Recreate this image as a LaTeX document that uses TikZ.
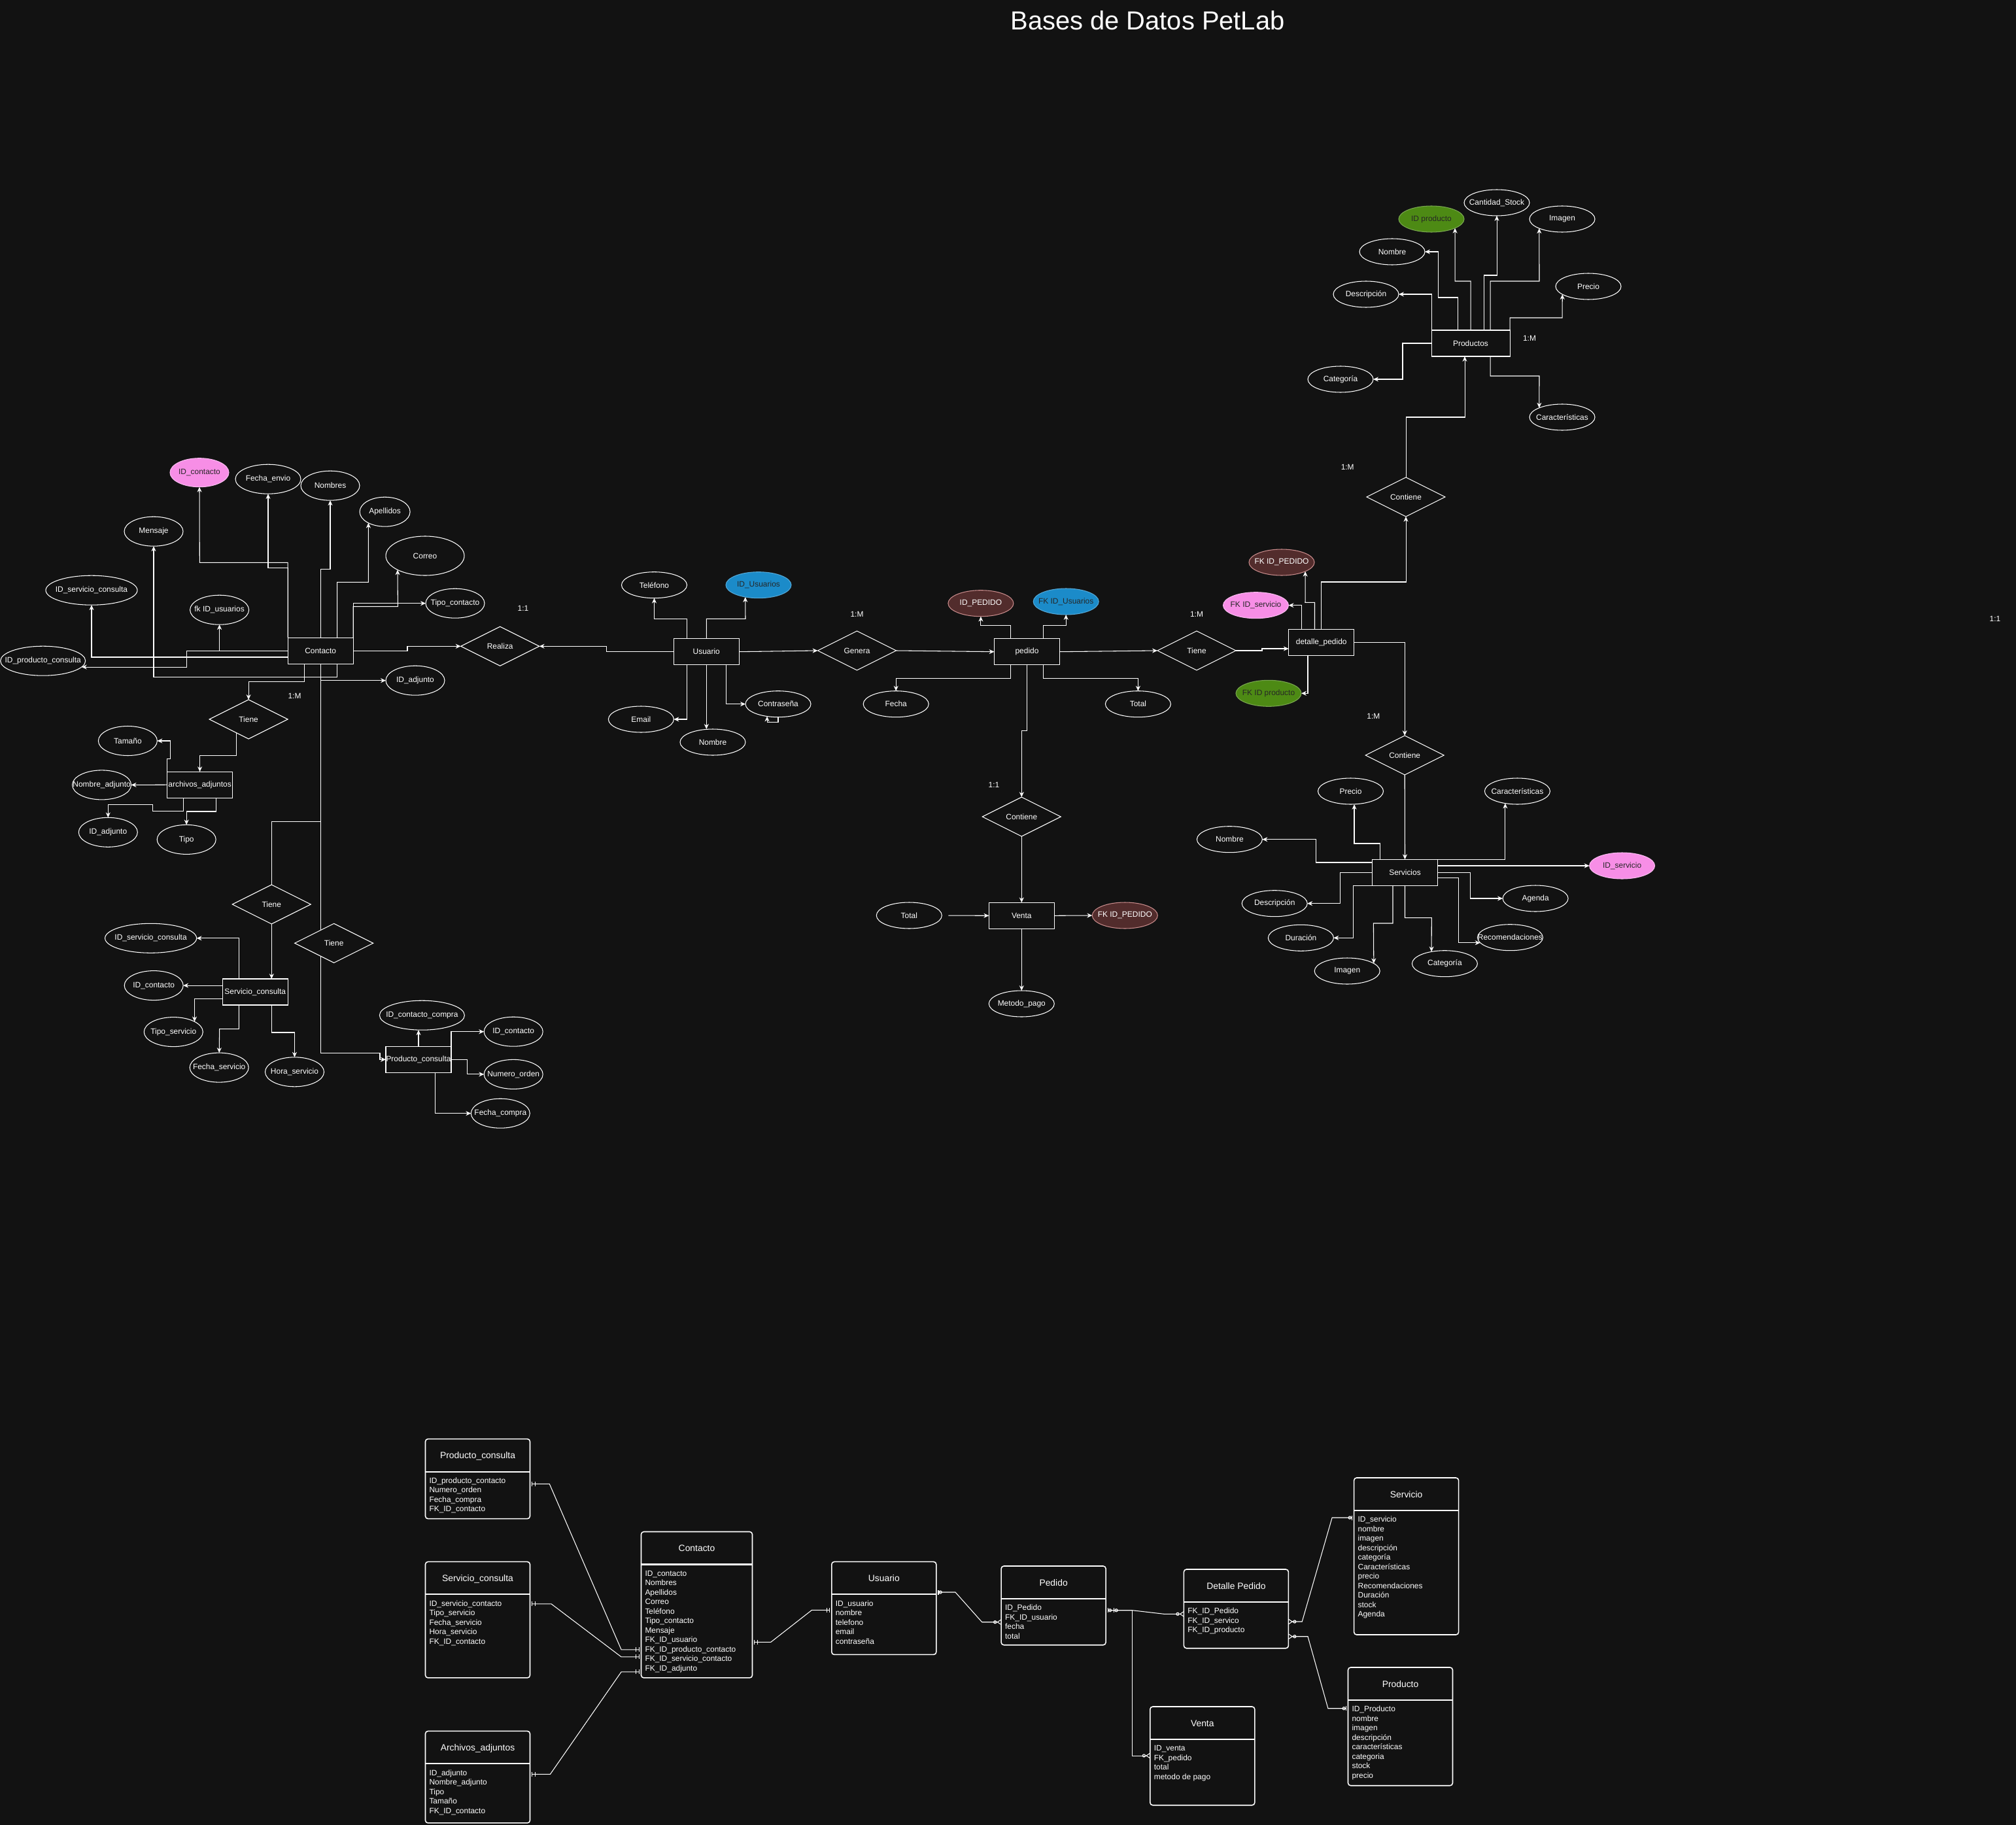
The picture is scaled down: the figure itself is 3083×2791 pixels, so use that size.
\documentclass[tikz,border=0pt]{standalone}
\usepackage{fontspec}
\setmainfont{Liberation Sans}
\usetikzlibrary{shapes.geometric,arrows.meta,calc}

\definecolor{bgc}{HTML}{121212}
\definecolor{pinkc}{HTML}{F78EE6}
\definecolor{greenc}{HTML}{4D8A14}
\definecolor{bluec}{HTML}{1B8BC9}
\definecolor{redc}{HTML}{522C2C}
\definecolor{redline}{HTML}{C98C8C}

\pgfdeclarelayer{bg}
\pgfdeclarelayer{edges}
\pgfsetlayers{bg,edges,main}

\newcommand{\erfont}{\fontsize{6.8}{8}\selectfont}
\newcommand{\zw}[1]{\makebox[0pt]{#1}}
% one table of the relational model: name, x, y, width, height, title, rows
\newcommand{\ertable}[7]{%
  \node[tbl, wh={#4}{#5}, anchor=north west] (#1) at (#2,#3) {};
  \draw[tblline] ($(#1.north west)+(0,50)$) -- ($(#1.north east)+(0,50)$);
  \node[tbltitle, anchor=base] (#1-title) at ($(#1.north)+(0,30)$) {#6};
  \foreach \rw [count=\i from 0] in {#7}
    \node[anchor=base west] (#1-r\i) at ($(#1.north west)+(6,67.8+14.5*\i)$) {\rw};
}

\begin{document}
\begin{tikzpicture}[x=0.02cm, y=-0.02cm,
  every node/.style={font=\erfont, text=white, inner sep=0pt, outer sep=0pt},
  wh/.style 2 args={minimum width=#1*0.02cm, minimum height=#2*0.02cm},
  ent/.style={draw=white, fill=bgc, line width=0.6pt, wh={100}{40}},
  attr/.style={ellipse, draw=white, fill=bgc, line width=0.6pt, wh={100}{40}},
  rel/.style={diamond, aspect=2, draw=white, fill=bgc, line width=0.6pt, wh={120}{60}},
  pk/.style={fill=pinkc, draw=pinkc!60!white, text=black!85},
  gr/.style={fill=greenc, draw=greenc!75!white, text=black!85},
  bl/.style={fill=bluec, draw=bluec!75!white, text=black!85},
  rd/.style={fill=redc, draw=redline},
  conn/.style={draw=white, line width=0.6pt, -{Stealth[length=4.5pt,width=4pt]}},
  link/.style={draw=white, line width=0.6pt},
  tbl/.style={draw=white, fill=bgc, line width=0.9pt, rounded corners=0.08cm},
  tblline/.style={draw=white!80, line width=1.2pt},
  tbltitle/.style={font=\fontsize{7.9}{9.5}\selectfont},
  erl/.style={draw=white!85, line width=0.6pt},
  oneone/.style={{Bar[width=4pt,sep=1.5pt]Bar[width=4pt,sep=2pt]}-{Bar[width=4pt,sep=2pt]Bar[width=4pt,sep=1.5pt]}},
  onezmany/.style={{Bar[width=4pt,sep=1.5pt]Circle[open,length=3pt,width=3pt]}-{Circle[open,length=3pt,width=3pt]Straight Barb[reversed,length=3pt,width=4pt]}},
  zmanyzone/.style={{Straight Barb[reversed,length=3pt,width=4pt]Circle[open,length=3pt,width=3pt]}-{Circle[open,length=3pt,width=3pt]Bar[width=4pt,sep=1.5pt]}}]

\useasboundingbox (0,0) rectangle (3083,2791);
\begin{pgfonlayer}{bg}
  \fill[bgc] (0,0) rectangle (3083,2791);
\end{pgfonlayer}

\node[font=\fontsize{22.7}{27}\selectfont] (title) at (1755,31) {Bases de Datos PetLab};

% entities
\node[ent, wh={120}{40}] (prod) at (2249,525) {\zw{Productos}};
\node[ent] (det) at (2020.7,982.3) {\zw{detalle\_pedido}};
\node[ent] (serv) at (2148.5,1334.3) {\zw{Servicios}};
\node[ent] (usr) at (1080.3,996.7) {\zw{Usuario}};
\node[ent] (ped) at (1570.5,996.7) {\zw{pedido}};
\node[ent] (venta) at (1562.3,1400.3) {\zw{Venta}};
\node[ent] (con) at (490.2,995.2) {\zw{Contacto}};
\node[ent] (arch) at (305.6,1200.2) {\zw{archivos\_adjuntos}};
\node[ent] (sc) at (390.3,1517) {\zw{Servicio\_consulta}};
\node[ent] (pc) at (640,1620.3) {\zw{Producto\_consulta}};

% relationships
\foreach \n/\x/\y/\t in {contP/2150/760/Contiene, tieneD/1830/995/Tiene, contS/2148.2/1155/Contiene,
    genera/1310.5/995/Genera, contV/1562.3/1249/Contiene, realiza/764.7/988.3/Realiza,
    tieneA/380.1/1100/Tiene, tieneB/415.3/1383/Tiene, tieneC/510.7/1442.4/Tiene}
  \node[rel] (\n) at (\x,\y) {\zw{\t}};

% attributes
\foreach \n/\x/\y/\t in {pStock/2289/310/Cantidad\_Stock, pImagen/2389/335/Imagen, pNombre/2129/385/Nombre,
    pPrecio/2429/438/Precio, pDescr/2089/450/Descripción, pCateg/2050/580/Categoría,
    pCaract/2389/638/Características, sPrecio/2065.5/1210/Precio, sCaract/2320.4/1210/Características,
    sNombre/1880.4/1283.7/Nombre, sDescr/1949.2/1381.7/Descripción, sAgenda/2348.1/1374/Agenda,
    sDur/1989.4/1434.3/Duración, sRecom/2309.4/1433.7/Recomendaciones, sImagen/2060.2/1485/Imagen,
    sCateg/2209.4/1473.7/Categoría, uTel/1000.5/894.7/Teléfono, uEmail/980.4/1100/Email,
    uNombre/1090/1135/Nombre, uPass/1190/1076.7/Contraseña, pdFecha/1370.2/1076.7/Fecha,
    pdTotal/1740.4/1076.7/Total, vTotal/1390.3/1400/Total, vMetodo/1562.3/1535/Metodo\_pago}
  \node[attr] (\n) at (\x,\y) {\zw{\t}};
\foreach \n/\x/\y/\w/\h/\t in {cFecha/410/732.7/100/45/Fecha\_envio, cNombres/505/742.7/90/45/Nombres,
    cApell/588.6/782.7/77/45/Apellidos, cMensaje/235/812.7/90/45/Mensaje, cCorreo/650/850/120/60/Correo,
    cIdServ/140/902.7/140/45/ID\_servicio\_consulta, cFkUsr/335.6/932.7/90/45/fk ID\_usuarios,
    cTipo/696/922.7/90/45/Tipo\_contacto, cIdProd/65.7/1010.7/130/45/ID\_producto\_consulta,
    cIdAdj/635/1040.7/90/45/ID\_adjunto, aTam/195.4/1133/90/45/Tamaño,
    aNombre/155.6/1200.4/90/45/Nombre\_adjunto, aId/165.3/1272.8/90/45/ID\_adjunto,
    aTipo/285.2/1283.9/90/45/Tipo, scId/230.6/1434.8/140/45/ID\_servicio\_consulta,
    scCon/235.2/1507.1/90/45/ID\_contacto, scTipo/265.3/1578.1/90/45/Tipo\_servicio,
    scFecha/335.2/1632.6/90/45/Fecha\_servicio, scHora/450.5/1639.3/90/45/Hora\_servicio,
    pcId/645.4/1552.7/130/45/ID\_contacto\_compra, pcCon/785.2/1577.7/90/45/ID\_contacto,
    pcNum/785.2/1642.9/90/45/Numero\_orden, pcFecha/765.3/1702.7/90/45/Fecha\_compra}
  \node[attr, wh={\w}{\h}] (\n) at (\x,\y) {\zw{\t}};

% keys
\node[attr, pk, wh={90}{44}] (cId) at (305,722.7) {\zw{ID\_contacto}};
\node[attr, gr] (pIdProd) at (2189,335) {\zw{ID producto}};
\node[attr, rd] (dFkPed) at (1960,860) {\zw{FK ID\_PEDIDO}};
\node[attr, pk] (dFkServ) at (1920.5,925.7) {\zw{FK ID\_servicio}};
\node[attr, gr] (dFkProd) at (1940,1060.3) {\zw{FK ID producto}};
\node[attr, pk] (sIdServ) at (2480.6,1324) {\zw{ID\_servicio}};
\node[attr, bl] (uId) at (1160,894.7) {\zw{ID\_Usuarios}};
\node[attr, rd] (pdId) at (1499.9,922.7) {\zw{ID\_PEDIDO}};
\node[attr, bl] (pdFkUsr) at (1630.2,920) {\zw{FK ID\_Usuarios}};
\node[attr, rd] (vFkPed) at (1720.3,1400) {\zw{FK ID\_PEDIDO}};

% cardinalities
\foreach \x/\y/\t [count=\k] in {2339/517/1:M, 2060.7/714.3/1:M, 1830/939.3/1:M, 2100.4/1095/1:M,
    1310.5/939.3/1:M, 450.5/1064.7/1:M, 1520/1200/1:1, 800/930/1:1, 3051/946/1:1}
  \node (card\k) at (\x,\y) {\t};

% relational model
\ertable{tPC}{650.5}{2200.6}{160}{122}{Producto\_consulta}{ID\_producto\_contacto, Numero\_orden, Fecha\_compra, FK\_ID\_contacto}
\ertable{tSC}{650.5}{2388.4}{160}{177.5}{Servicio\_consulta}{ID\_servicio\_contacto, Tipo\_servicio, Fecha\_servicio, Hora\_servicio, FK\_ID\_contacto}
\ertable{tAA}{650.5}{2647.4}{160}{140.5}{Archivos\_adjuntos}{ID\_adjunto, Nombre\_adjunto, Tipo, Tamaño, FK\_ID\_contacto}
\ertable{tCon}{980.5}{2342.5}{170}{223.4}{Contacto}{ID\_contacto, Nombres, Apellidos, Correo, Teléfono, Tipo\_contacto, Mensaje, FK\_ID\_usuario, FK\_ID\_producto\_contacto, FK\_ID\_servicio\_contacto, FK\_ID\_adjunto}
\ertable{tUsr}{1271.8}{2388.4}{160}{142}{Usuario}{ID\_usuario, nombre, telefono, email, contraseña}
\ertable{tPed}{1531.1}{2395}{160}{120.7}{Pedido}{ID\_Pedido, FK\_ID\_usuario, fecha, total}
\ertable{tDet}{1810.4}{2400}{160}{120.7}{Detalle Pedido}{FK\_ID\_Pedido, FK\_ID\_servico, FK\_ID\_producto}
\ertable{tSer}{2070.6}{2260}{160}{240}{Servicio}{ID\_servicio, nombre, imagen, descripción, categoría, Características, precio, Recomendaciones, Duración, stock, Agenda}
\ertable{tVen}{1758.8}{2610}{160}{150.7}{Venta}{ID\_venta, FK\_pedido, total, metodo de pago}
\ertable{tPro}{2061.5}{2550}{160}{180.7}{Producto}{ID\_Producto, nombre, imagen, descripción, características, categoria, stock, precio}

\begin{pgfonlayer}{edges}
% Productos
\draw[conn] (prod.north -| 2229,0) |- (2199,455) |- (pNombre.east);
\draw[conn] (prod.north) |- (2225,430) -- (pIdProd.-21);
\draw[conn] (prod.north -| 2269,0) |- (2289,421) -- (pStock.south);
\draw[conn] (prod.north -| 2279,0) |- (2354,430) -- (pImagen.202);
\draw[conn] (prod.north east) |- (2389,486) -- (pPrecio.197);
\draw[conn] (prod.north west) |- (pDescr.east);
\draw[conn] (prod.west) -- (2145,525) |- (pCateg.east);
\draw[conn] (prod.south -| 2279,0) |- (2354,575) -- (pCaract.158);
% detalle_pedido
\draw[conn] (contP.north) |- (2240,638) -- (prod.south -| 2240,0);
\draw[conn] (det.north) |- (2150,890) -- (contP.south);
\draw[conn] (det.north -| 2010.5,0) |- (1996,921.3) -- (dFkPed.-21);
\draw[conn] (det.north -| 1990.4,0) |- (dFkServ.east);
\draw[conn] (det.south -| 2000,0) |- (dFkProd.east);
\draw[conn] (tieneD.east) -- (1930,995) |- (det.west |- 0,992);
\draw[conn] (ped.east) -- (tieneD.west);
\draw[conn] (det.east) -| (contS.north);
\draw[conn] (contS.south) -- (serv.north);
% Servicios
\draw[conn] (serv.north -| 2110.4,0) |- (2071,1290) -- (sPrecio.south -| 2071,0);
\draw[conn] (serv.north east) -| (sCaract.225);
\draw[conn] (serv.west |- 0,1319) -- (2012.4,1319) |- (sNombre.east);
\draw[conn] (serv.east |- 0,1324) -- (sIdServ.west);
\draw[conn] (serv.west) -- (2049.2,1334.3) |- (sDescr.east);
\draw[conn] (serv.south west) -- (2069.3,1354.3) |- (sDur.east);
\draw[conn] (serv.south -| 2130,0) |- (2100.4,1412) -- (sImagen.16);
\draw[conn] (serv.south) |- (2189.3,1403.7) -- (sCateg.138);
\draw[conn] (serv.east |- 0,1342.7) -- (2230.5,1342.7) |- (sRecom.190);
\draw[conn] (serv.east) -- (2248.2,1334.3) |- (sAgenda.west);
% Usuario
\draw[conn] (usr.north -| 1050.4,0) |- (1000.5,946.3) -- (uTel.south);
\draw[conn] (usr.north) |- (1140,946.3) -- (uId.222);
\draw[conn] (usr.south -| 1050.4,0) |- (uEmail.east);
\draw[conn] (usr.south) -- (usr.south |- uNombre.north);
\draw[conn] (usr.south -| 1110.7,0) |- (uPass.west);
\draw[conn] (uPass.south) -- ++(0,8) -| (uPass.228);
\draw[conn] (usr.west) -- (927.6,996.7) |- (realiza.east);
\draw[conn] (usr.east) -- (genera.west);
\draw[conn] (genera.east) -- (ped.west);
% pedido, Venta
\draw[conn] (ped.north -| 1545.8,0) |- (1499.9,956.7) -- (pdId.south);
\draw[conn] (ped.north -| 1595.8,0) |- (1630.2,956.7) -- (pdFkUsr.south);
\draw[conn] (ped.south -| 1545.8,0) |- (1370.2,1037.3) -- (pdFecha.north);
\draw[conn] (ped.south -| 1595.8,0) |- (1740.4,1037.3) -- (pdTotal.north);
\draw[conn] (ped.south) |- (1562.3,1117.7) -- (contV.north);
\draw[conn] (contV.south) -- (venta.north);
\draw[conn, shorten <=0.2cm] (vTotal.east) -- (venta.west);
\draw[conn] (venta.east) -- (vFkPed.west);
\draw[conn] (venta.south) -- (vMetodo.north);
% Contacto
\draw[conn] (con.north west) |- (305.3,860.3) -- (cId.south);
\draw[conn] (con.north west) |- (410,868.3) -- (cFecha.south);
\draw[conn] (con.north) |- (505,870.3) -- (cNombres.south);
\draw[conn] (con.north -| 515.6,0) |- (563.4,890.3) -- (cApell.214);
\draw[conn] (con.north east) |- (608.4,927.7) -- (cCorreo.207);
\draw[conn] (con.north east) |- (cTipo.west);
\draw[conn] (con.east) -- (623,995.2) |- (realiza.west);
\draw[conn] (con.west) -| (cFkUsr.south);
\draw[conn] (con.west) -- (285.6,995.2) |- (cIdProd.-9);
\draw[conn] (con.west |- 0,1005) -| (cIdServ.south);
\draw[conn] (con.south -| 515.6,0) |- (235,1035.3) -- (cMensaje.south);
\draw[conn] (con.south -| 465.1,0) |- (380.1,1042.7) -- (tieneA.north);
\draw[conn] (con.south) |- (cIdAdj.west);
\draw[conn] (con.south) |- (581,1610.3) |- (pc.west);
\draw[link] (con.south) |- (415.3,1256.3) -- (tieneB.north);
\draw[conn] (tieneB.south) -- (tieneB.south |- sc.north);
% archivos_adjuntos
\draw[conn] (tieneA.228) |- (305.6,1155.4) -- (arch.north);
\draw[conn] (arch.north west) |- (260.7,1160.3) |- (aTam.east);
\draw[conn] (arch.west) -- (aNombre.east);
\draw[conn] (arch.south -| 280.6,0) |- (233.7,1240.2) |- (165.3,1230.4) -- (aId.north);
\draw[conn] (arch.south -| 330.6,0) |- (285.2,1241) -- (aTipo.north);
% Servicio_consulta
\draw[conn] (sc.north -| 365.3,0) |- (scId.east);
\draw[conn] (sc.west |- 0,1507.1) -- (scCon.east);
\draw[conn] (sc.west |- 0,1527.2) -| (scTipo.26);
\draw[conn] (sc.south -| 365.3,0) |- (335.7,1573.7) -- (scFecha.north);
\draw[conn] (sc.south -| 415.3,0) |- (450.5,1579) -- (scHora.north);
% Producto_consulta
\draw[conn] (pc.north) -- (pc.north |- pcId.south);
\draw[conn] (pc.north east) |- (pcCon.west);
\draw[conn] (pc.east) -- (714.8,1620.3) |- (pcNum.west);
\draw[conn] (pc.south -| 665.3,0) |- (pcFecha.west);
% relational links
\draw[erl, oneone] (tPC.east |- 0,2269.4) -- (840.3,2269.4) -- (950.1,2522.8) -- (tCon.west |- 0,2522.8);
\draw[erl, oneone] (tSC.east |- 0,2452.8) -- (843,2452.8) -- (950.1,2533.9) -- (tCon.west |- 0,2533.9);
\draw[erl, oneone] (tAA.east |- 0,2713.4) -- (841.4,2713.4) -- (950.1,2556.8) -- (tCon.west |- 0,2556.8);
\draw[erl, oneone] (tCon.east |- 0,2511.4) -- (1178.7,2511.4) -- (1241.5,2462.3) -- (tUsr.west |- 0,2462.3);
\draw[erl, onezmany] (tUsr.east |- 0,2435) -- (1461,2435) -- (1501.7,2480.7) -- (tPed.west |- 0,2480.7);
\draw[erl, onezmany] (tPed.east |- 0,2462.7) -- (1731.7,2462.7) -- (1780,2468.3) -- (tDet.west |- 0,2468.3);
\draw[erl, {Bar[width=4pt,sep=7pt]Circle[open,length=3pt,width=3pt]}-{Circle[open,length=3pt,width=3pt]Straight Barb[reversed,length=3pt,width=4pt]}] (tPed.east |- 0,2462.7) -- (1731.7,2462.7) |- (tVen.west |- 0,2685);
\draw[erl, zmanyzone] (tDet.east |- 0,2480) -- (1991.2,2480) -- (2037.1,2321) -- (tSer.west |- 0,2321);
\draw[erl, zmanyzone] (tDet.east |- 0,2502.7) -- (2000,2502.7) -- (2030.9,2612.7) -- (tPro.west |- 0,2612.7);
\end{pgfonlayer}
\end{tikzpicture}
\end{document}
